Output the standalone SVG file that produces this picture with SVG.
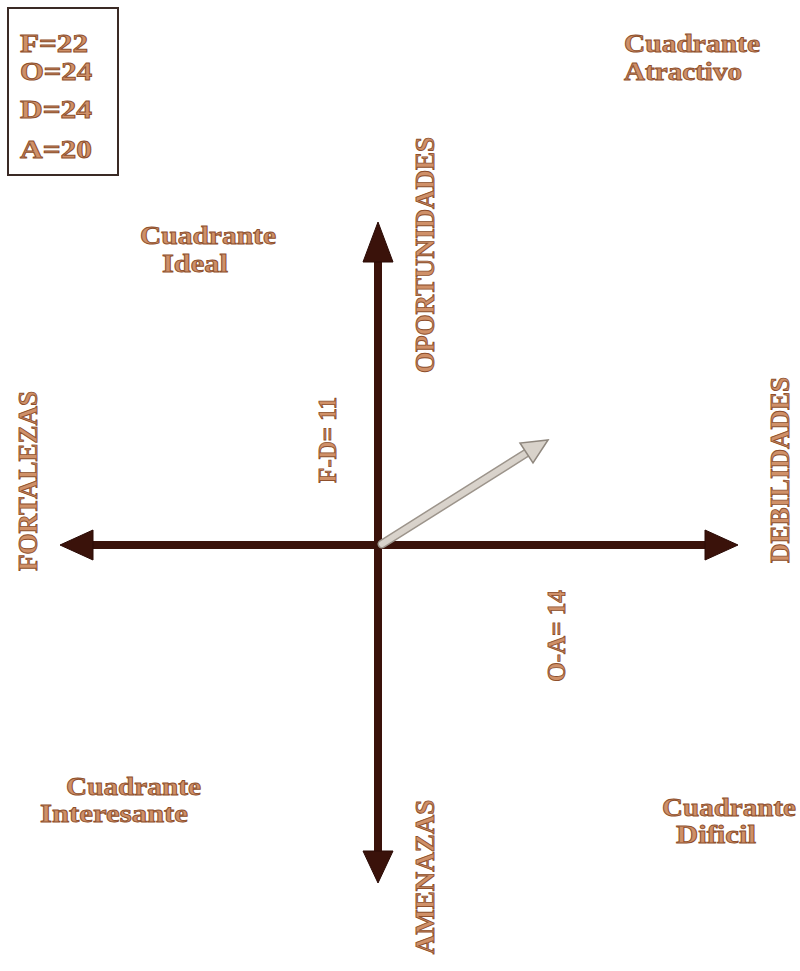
<svg xmlns="http://www.w3.org/2000/svg" width="800" height="971" viewBox="0 0 800 971">
<defs>
<style>
.t{font-family:"Liberation Serif","Times New Roman",serif;font-weight:bold;fill:#cf9068;stroke:#8e4f2c;stroke-width:0.9}
.q{font-size:26px}
.v{font-size:27px;text-anchor:middle}
.s{font-size:25px;text-anchor:middle}
.b{font-size:26px}
.axis{stroke:#3a120a;stroke-width:8;fill:none}
.head{fill:#3a120a;stroke:#2a0a05;stroke-width:1}
</style>
<linearGradient id="g" x1="0" y1="0" x2="1" y2="1">
<stop offset="0" stop-color="#f4f1ec"/>
<stop offset="1" stop-color="#bdb4aa"/>
</linearGradient>
</defs>
<rect width="800" height="971" fill="#ffffff"/>

<g id="legend">
<rect x="8" y="8" width="110" height="167" fill="#ffffff" stroke="#3a2a25" stroke-width="2"/>
<text class="t b" x="20" y="52" textLength="68" lengthAdjust="spacingAndGlyphs">F=22</text>
<text class="t b" x="20" y="80" textLength="72" lengthAdjust="spacingAndGlyphs">O=24</text>
<text class="t b" x="20" y="118" textLength="72" lengthAdjust="spacingAndGlyphs">D=24</text>
<text class="t b" x="20" y="158" textLength="72" lengthAdjust="spacingAndGlyphs">A=20</text>
</g>

<g id="connectors">
<line class="axis" x1="88" y1="545" x2="710" y2="545"/>
<line class="axis" x1="378" y1="258" x2="378" y2="856"/>
<polygon class="head" points="378,222 363,262 393,262"/>
<polygon class="head" points="378,883 363,851 393,851"/>
<polygon class="head" points="738,545 705,530 705,560"/>
<polygon class="head" points="60,545 93,530 93,560"/>
<g id="result-arrow">
<line x1="382" y1="544" x2="528" y2="452" stroke="#9c948b" stroke-width="9" stroke-linecap="round"/>
<line x1="382" y1="544" x2="528" y2="452" stroke="url(#g)" stroke-width="6" stroke-linecap="round"/>
<polygon points="548,440 533,463 520,443" fill="#d8d2ca" stroke="#8f877e" stroke-width="1.5"/>
</g>
</g>

<g id="q-atractivo">
<text class="t q" x="624" y="52" textLength="136" lengthAdjust="spacingAndGlyphs">Cuadrante</text>
<text class="t q" x="624" y="80" textLength="118" lengthAdjust="spacingAndGlyphs">Atractivo</text>
</g>
<g id="q-ideal">
<text class="t q" x="140" y="244" textLength="136" lengthAdjust="spacingAndGlyphs">Cuadrante</text>
<text class="t q" x="162" y="272" textLength="66" lengthAdjust="spacingAndGlyphs">Ideal</text>
</g>
<g id="q-interesante">
<text class="t q" x="66" y="795" textLength="135" lengthAdjust="spacingAndGlyphs">Cuadrante</text>
<text class="t q" x="40" y="822" textLength="148" lengthAdjust="spacingAndGlyphs">Interesante</text>
</g>
<g id="q-dificil">
<text class="t q" x="662" y="816" textLength="134" lengthAdjust="spacingAndGlyphs">Cuadrante</text>
<text class="t q" x="676" y="843" textLength="80" lengthAdjust="spacingAndGlyphs">Dificil</text>
</g>

<g id="oportunidades"><text class="t v" x="434" y="255" transform="rotate(-90 434 255)">OPORTUNIDADES</text></g>
<g id="fortalezas"><text class="t v" x="37" y="481" transform="rotate(-90 37 481)">FORTALEZAS</text></g>
<g id="debilidades"><text class="t v" x="789" y="470" transform="rotate(-90 789 470)">DEBILIDADES</text></g>
<g id="amenazas"><text class="t v" x="434" y="877" transform="rotate(-90 434 877)">AMENAZAS</text></g>
<g id="fd"><text class="t s" x="336" y="440" transform="rotate(-90 336 440)">F-D= 11</text></g>
<g id="oa"><text class="t s" x="565" y="636" transform="rotate(-90 565 636)">O-A= 14</text></g>
</svg>
